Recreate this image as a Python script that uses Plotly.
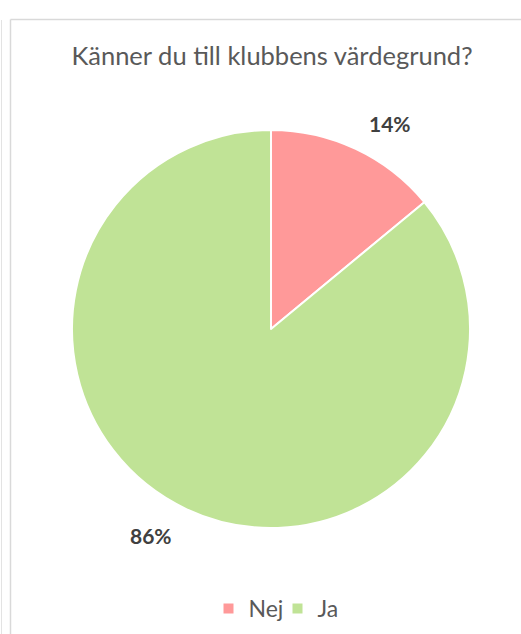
import math
import plotly.graph_objects as go

labels = ["Nej", "Ja"]
values = [14, 86]
colors = ["#FF9999", "#C0E396"]
title_text = "Känner du till klubbens värdegrund?"

W, H = 521, 634
cx, cy, r = 271, 329, 199
label_r = 221  # radius where the label box corner touches (px)

fig = go.Figure(go.Pie(
    labels=labels,
    values=values,
    sort=False,
    direction="clockwise",
    rotation=0,
    marker=dict(colors=colors, line=dict(color="white", width=2)),
    textinfo="none",
    domain=dict(x=[(cx - r) / W, (cx + r) / W], y=[1 - (cy + r) / H, 1 - (cy - r) / H]),
    hoverinfo="label+percent",
))

# data labels placed outside each slice at its mid-angle (derived from the values)
total = sum(values)
annotations = []
cum = 0
for lab, v in zip(labels, values):
    mid = (cum + v / 2) / total * 2 * math.pi
    cum += v
    s, c = math.sin(mid), math.cos(mid)
    px = cx + label_r * s
    py = cy - label_r * c
    annotations.append(dict(
        text=f"{round(v / total * 100)}%",
        x=px / W, y=1 - py / H, xref="paper", yref="paper",
        xanchor="left" if s >= 0 else "right",
        yanchor="bottom" if c >= 0 else "top",
        yshift=-9 if c >= 0 else 8,
        xshift=2 if s >= 0 else -3,
        showarrow=False,
        font=dict(family="Lato", size=21, color="#404040", weight="bold"),
    ))

shapes = [
    dict(type="line", xref="paper", yref="paper", x0=10.5 / W, x1=10.5 / W, y0=-0.1, y1=1 - 19.5 / H,
         line=dict(color="#D9D9D9", width=1.5)),
    dict(type="line", xref="paper", yref="paper", x0=10.5 / W, x1=1.1, y0=1 - 19.5 / H, y1=1 - 19.5 / H,
         line=dict(color="#D9D9D9", width=1.5)),
    dict(type="line", xref="paper", yref="paper", x0=1.5 / W, x1=1.5 / W, y0=-0.1, y1=1 - 20 / H,
         line=dict(color="#E3E3E3", width=1)),
]

fig.update_layout(
    width=W, height=H,
    margin=dict(l=0, r=0, t=0, b=0),
    paper_bgcolor="white",
    plot_bgcolor="white",
    title=dict(text=title_text, x=272 / W, xanchor="center", y=1 - 56 / H, yanchor="middle",
               font=dict(family="Lato", size=25.5, color="#595959")),
    showlegend=True,
    legend=dict(orientation="h", x=277.5 / W, xanchor="center", y=1 - 608.5 / H, yanchor="middle",
                font=dict(family="Lato", size=23, color="#595959"), itemwidth=30,
                entrywidth=24),
    shapes=shapes,
    annotations=annotations,
)

fig.write_html("out.html", config={"displayModeBar": False},
               post_script="document.body.style.margin='0';document.body.style.overflow='hidden';")
